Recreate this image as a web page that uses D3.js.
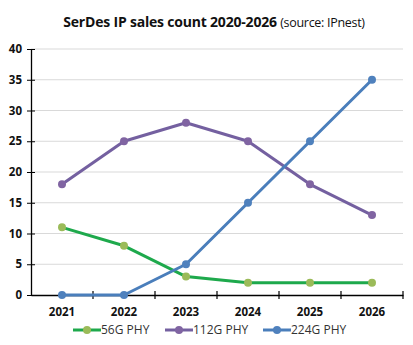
<!DOCTYPE html>
<html><head><meta charset="utf-8">
<script src="https://cdn.jsdelivr.net/npm/d3@7"></script>
<style>body{margin:0;background:#fff;}svg{display:block;font-family:"Open Sans",Arial,sans-serif;}</style>
</head><body><svg id="c" width="413" height="345"></svg>
<script>
const years = ["2021","2022","2023","2024","2025","2026"];
const s56 = [11, 8, 3, 2, 2, 2];
const s112 = [18, 25, 28, 25, 18, 13];
const s224 = [0, 0, 5, 15, 25, 35];
const yTicks = [0,5,10,15,20,25,30,35,40];
const seriesNames = ["56G PHY","112G PHY","224G PHY"];

const series = [
  {name: seriesNames[0], values: s56, line: "#1ea94c", marker: "#9bbb59"},
  {name: seriesNames[1], values: s112, line: "#7460a0", marker: "#8064a2"},
  {name: seriesNames[2], values: s224, line: "#4a7ebb", marker: "#4f81bd"}
];

const svg = d3.select("#c");
const x = d3.scaleBand().domain(years).range([31, 403]);
const y = d3.scaleLinear().domain([0,40]).range([295, 49]);

// gridlines
svg.append("g").selectAll("line").data(yTicks.filter(d=>d>0)).join("line")
  .attr("x1", 31).attr("x2", 403).attr("y1", d=>y(d)).attr("y2", d=>y(d))
  .attr("stroke", "#d9d9d9").attr("stroke-width", 1);

// y axis
const ya = svg.append("g").attr("transform","translate(31,0)")
  .call(d3.axisLeft(y).tickValues(yTicks).tickSize(4).tickSizeOuter(0));
ya.select(".domain").attr("stroke","#000").attr("stroke-width",1.3);
ya.selectAll(".tick line").attr("x1",-4).attr("x2",4).attr("stroke","#000");
ya.selectAll(".tick text").attr("x",-9).attr("font-size",11.5).attr("font-weight","bold")
  .attr("fill","#111").attr("font-family","'Open Sans',Arial,sans-serif");

// x axis
const xa = svg.append("g").attr("transform","translate(0,295)")
  .call(d3.axisBottom(x).tickSize(0).tickSizeOuter(0));
xa.select(".domain").attr("stroke","#000").attr("stroke-width",1.3);
xa.selectAll(".tick text").attr("dy",0).attr("y",21).attr("font-size",11.5).attr("font-weight","bold")
  .attr("fill","#111").attr("font-family","'Open Sans',Arial,sans-serif");
const bounds = years.map(d=>x(d)).concat([x.range()[1]]).slice(1);
xa.append("g").selectAll("line").data(bounds).join("line")
  .attr("x1",d=>d).attr("x2",d=>d).attr("y1",-4).attr("y2",4)
  .attr("stroke","#000").attr("stroke-width",1.2);

const cx = d => x(d) + x.bandwidth()/2;
const line = d3.line().x((v,i)=>cx(years[i])).y(v=>y(v));

[series[1], series[0], series[2]].forEach(s=>{
  const g = svg.append("g");
  g.append("path").attr("d", line(s.values)).attr("fill","none")
    .attr("stroke", s.line).attr("stroke-width", 3).attr("stroke-linejoin","round");
  g.selectAll("circle").data(s.values).join("circle")
    .attr("cx",(v,i)=>cx(years[i])).attr("cy",v=>y(v)).attr("r",4)
    .attr("fill", s.marker);
});

// title
const t = svg.append("text").attr("x", 214).attr("y", 27).attr("text-anchor","middle")
  .attr("fill","#111");
t.append("tspan").attr("font-weight","bold").attr("font-size",14).attr("letter-spacing",-0.2)
  .text("SerDes IP sales count  2020-2026 ");
t.append("tspan").attr("font-size",12.5).attr("letter-spacing",-0.3).text("(source: IPnest)");

// legend
const legX = [73, 165, 263];
const leg = svg.append("g");
series.forEach((s,i)=>{
  const gx = legX[i], gy = 330;
  leg.append("line").attr("x1",gx).attr("x2",gx+28).attr("y1",gy).attr("y2",gy)
    .attr("stroke",s.line).attr("stroke-width",3);
  leg.append("circle").attr("cx",gx+14).attr("cy",gy).attr("r",4).attr("fill",s.marker);
  leg.append("text").attr("x",gx+28).attr("y",gy+4).attr("font-size",12).attr("fill","#333")
    .text(s.name);
});
</script></body></html>
